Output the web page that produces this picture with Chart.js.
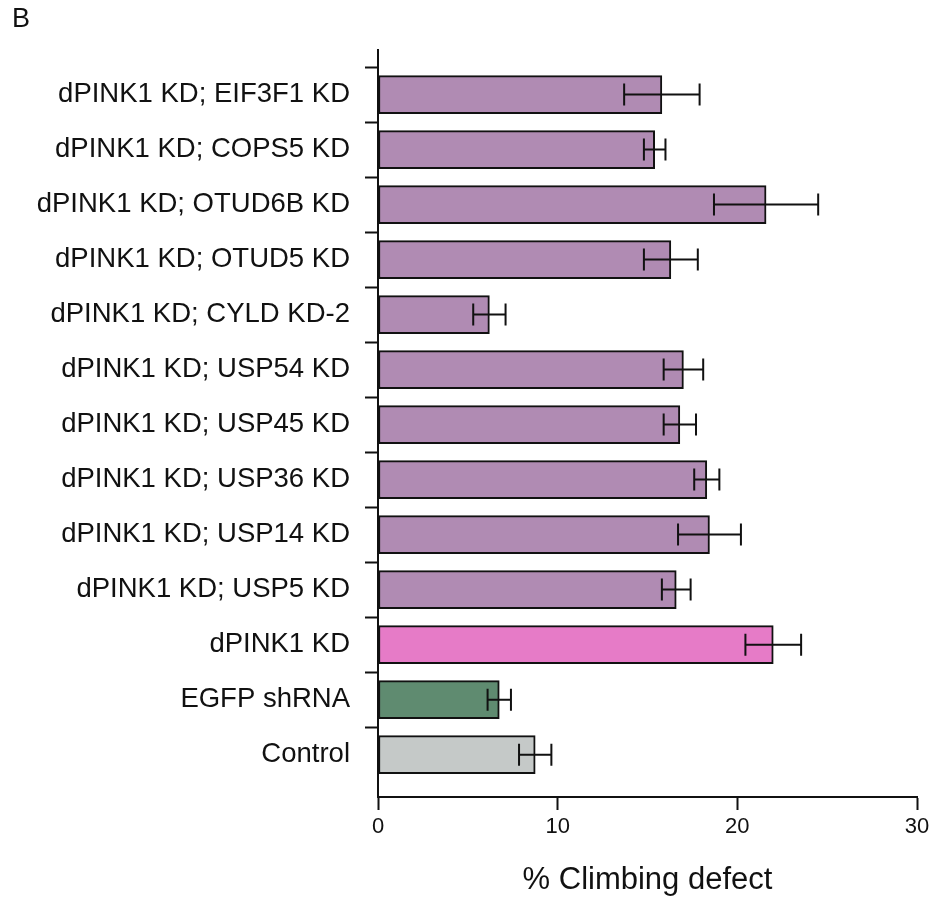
<!DOCTYPE html>
<html>
<head>
<meta charset="utf-8">
<script src="https://cdn.jsdelivr.net/npm/chart.js@4"></script>
<style>
  html, body { margin: 0; padding: 0; background: #fff; }
  #wrap { position: relative; width: 930px; height: 899px; }
  #panel { position: absolute; left: 12px; top: 3px; font: 27px "Liberation Sans", Arial, sans-serif; color: #111; }
</style>
</head>
<body>
<div id="wrap">
  <div id="panel">B</div>
  <canvas id="chart" width="930" height="899"></canvas>
</div>
<script>
// --- data (top to bottom) ---
const groups = [
  'dPINK1 KD; EIF3F1 KD',
  'dPINK1 KD; COPS5 KD',
  'dPINK1 KD; OTUD6B KD',
  'dPINK1 KD; OTUD5 KD',
  'dPINK1 KD; CYLD KD-2',
  'dPINK1 KD; USP54 KD',
  'dPINK1 KD; USP45 KD',
  'dPINK1 KD; USP36 KD',
  'dPINK1 KD; USP14 KD',
  'dPINK1 KD; USP5 KD',
  'dPINK1 KD',
  'EGFP shRNA',
  'Control'
];
const defect = [15.8, 15.4, 21.6, 16.3, 6.2, 17.0, 16.8, 18.3, 18.45, 16.6, 22.0, 6.75, 8.75];
const sem    = [2.1, 0.6, 2.9, 1.5, 0.9, 1.1, 0.9, 0.7, 1.75, 0.8, 1.55, 0.65, 0.9];
const barColors = [
  '#b08bb3', '#b08bb3', '#b08bb3', '#b08bb3', '#b08bb3', '#b08bb3', '#b08bb3',
  '#b08bb3', '#b08bb3', '#b08bb3', '#e67bc7', '#5f8b70', '#c5c9c8'
];
const xTicks = [0, 10, 20, 30];

const FONT = '"Liberation Sans", Arial, sans-serif';

// error bars drawn with the scales
const errorBars = {
  id: 'errorBars',
  afterDatasetsDraw(chart) {
    const ctx = chart.ctx;
    const xs = chart.scales.x;
    const meta = chart.getDatasetMeta(0);
    ctx.save();
    ctx.strokeStyle = '#111';
    ctx.lineWidth = 2;
    meta.data.forEach((bar, i) => {
      const lo = xs.getPixelForValue(defect[i] - sem[i]);
      const hi = xs.getPixelForValue(defect[i] + sem[i]);
      const y = bar.y;
      ctx.beginPath();
      ctx.moveTo(lo, y); ctx.lineTo(hi, y);
      ctx.moveTo(lo, y - 11); ctx.lineTo(lo, y + 11);
      ctx.moveTo(hi, y - 11); ctx.lineTo(hi, y + 11);
      ctx.stroke();
    });
    ctx.restore();
  }
};

// tick marks only between groups (half steps), labels on the groups
function isGroupTick(ctx) {
  return ctx.tick && Number.isInteger(ctx.tick.value);
}

new Chart(document.getElementById('chart'), {
  type: 'bar',
  data: {
    datasets: [{
      data: defect.map((v, i) => ({ x: v, y: i })),
      backgroundColor: barColors,
      borderColor: '#111',
      borderWidth: 2,
      borderSkipped: false,
      barThickness: 38
    }]
  },
  options: {
    indexAxis: 'y',
    responsive: false,
    animation: false,
    layout: { padding: { top: 50, right: 13, bottom: 0, left: 0 } },
    plugins: { legend: { display: false }, tooltip: { enabled: false } },
    scales: {
      y: {
        type: 'linear',
        reverse: true,
        offset: false,
        min: -0.81,
        max: 12.77,
        afterBuildTicks(scale) {
          const t = [];
          for (let v = -0.5; v <= 12; v += 0.5) t.push({ value: v });
          scale.ticks = t;
        },
        afterFit(scale) { scale.width = 378; },
        grid: {
          offset: false,
          drawOnChartArea: false,
          tickLength: 13,
          tickWidth: 2,
          tickColor: ctx => isGroupTick(ctx) ? 'rgba(0,0,0,0)' : '#111'
        },
        border: { color: '#111', width: 2 },
        ticks: {
          autoSkip: false,
          padding: 15,
          color: '#111',
          font: { family: FONT, size: 27.5 },
          callback: v => Number.isInteger(v) ? groups[v] : ''
        }
      },
      x: {
        type: 'linear',
        min: 0,
        max: 30,
        afterBuildTicks(scale) { scale.ticks = xTicks.map(v => ({ value: v })); },
        afterFit(scale) {
          scale.height = 102;
          scale.paddingRight = 0; // let the axis run close to the edge like the figure
        },
        grid: { offset: false, drawOnChartArea: false, tickLength: 13, tickWidth: 2, tickColor: '#111' },
        border: { color: '#111', width: 2 },
        ticks: { padding: 4, color: '#111', font: { family: FONT, size: 22 } },
        title: {
          display: true,
          text: '% Climbing defect',
          color: '#111',
          font: { family: FONT, size: 31 },
          padding: { top: 0, bottom: 0 }
        }
      }
    }
  },
  plugins: [errorBars]
});
</script>
</body>
</html>
